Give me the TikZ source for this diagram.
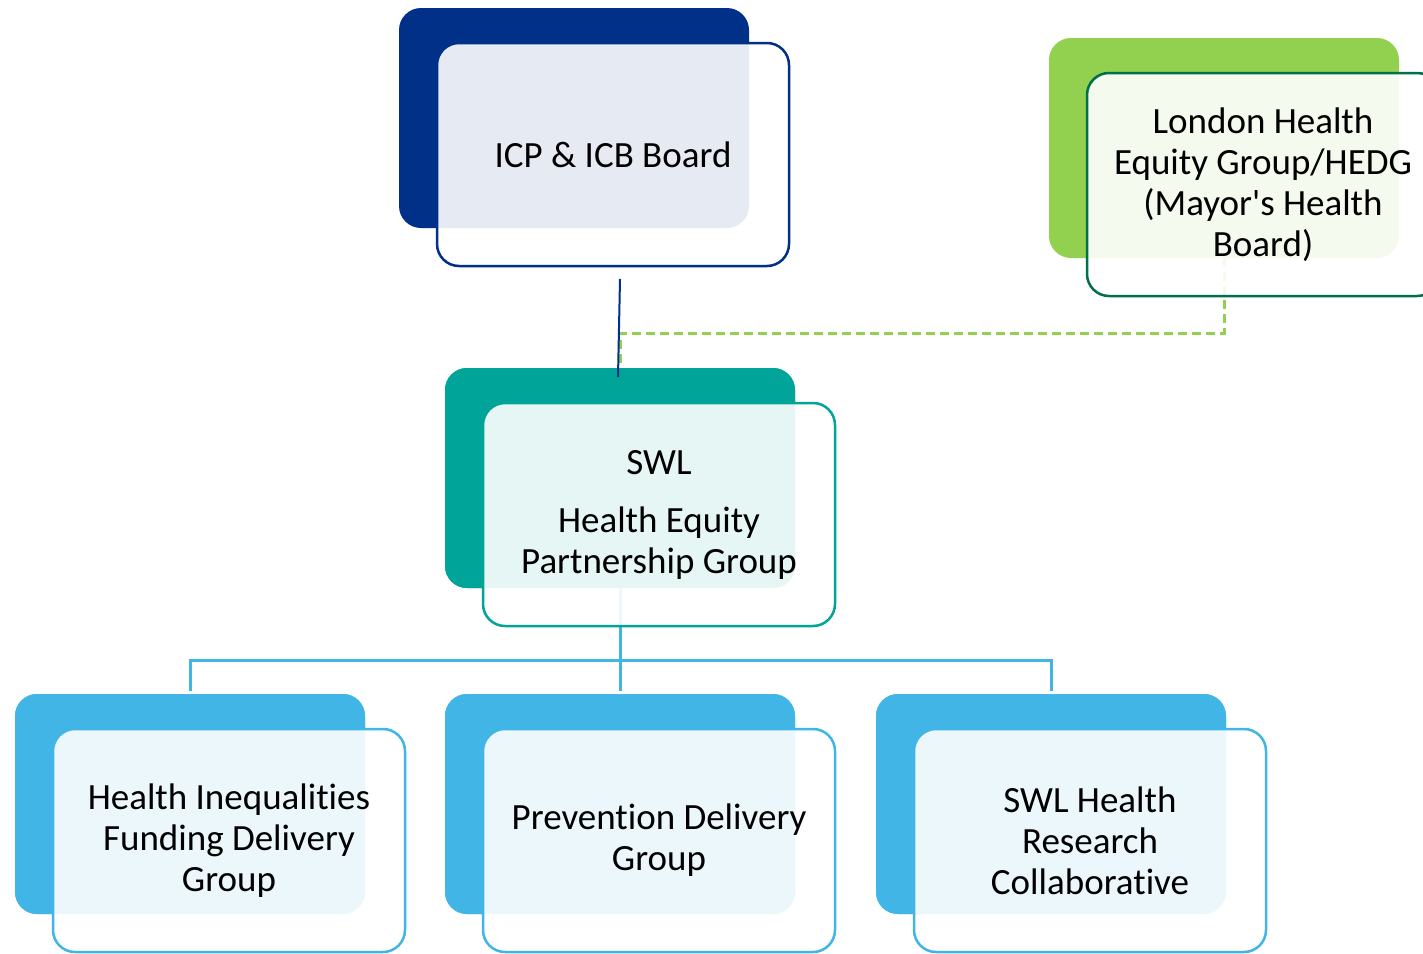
\documentclass[tikz,border=0pt]{standalone}
\usepackage{fontspec}
\setmainfont{Carlito}[Ligatures={NoCommon}]
\definecolor{navy}{HTML}{003087}
\definecolor{lgreen}{HTML}{92D050}
\definecolor{dgreen}{HTML}{00704A}
\definecolor{teal}{HTML}{00A499}
\definecolor{sky}{HTML}{41B6E6}
\begin{document}
\begin{tikzpicture}[x=1pt,y=-1pt,
  backbox/.style={rounded corners=22pt, minimum width=350pt, minimum height=220pt,
    inner sep=0pt, outer sep=0pt, draw=none},
  frontbox/.style={rounded corners=22pt, minimum width=352pt, minimum height=223pt,
    inner sep=0pt, outer sep=0pt, fill=white, fill opacity=0.9, text opacity=1,
    line width=2.5pt, align=center, text=black,
    font=\fontsize{37}{41}\selectfont},
  link/.style={line width=3pt, sky},
  dashlink/.style={line width=3pt, lgreen, dash pattern=on 9pt off 5pt},
]
\useasboundingbox (0,0) rectangle (1423,953);
\clip (0,0) rectangle (1423,953);

% back panels
\node[backbox, fill=navy]   (icpb) at (574,118) {};
\node[backbox, fill=lgreen] (lonb) at (1224,148) {};
\node[backbox, fill=teal]   (swlb) at (620,478) {};
\node[backbox, fill=sky]    (hifb) at (190,804) {};
\node[backbox, fill=sky]    (prvb) at (620,804) {};
\node[backbox, fill=sky]    (rscb) at (1051,804) {};

% connectors
\draw[dashlink] (lonb.south) -- ++(0,75) -| (swlb.north);
\draw[link] (swlb.south) -- ++(0,72) coordinate (hub);
\draw[link] (hub) -| ([yshift=3pt]hifb.north);
\draw[link] (hub) -| ([yshift=3pt]rscb.north);
\draw[link] (hub) -- ([yshift=3pt]prvb.north);

% re-lay panels over connector ends
\node[backbox, fill=teal] at (swlb) {};
\node[backbox, fill=sky]  at (hifb) {};
\node[backbox, fill=sky]  at (prvb) {};
\node[backbox, fill=sky]  at (rscb) {};

\draw[navy, line width=2pt] ([yshift=-51pt]icpb.south -| swlb.north)
  -- ([xshift=-2pt,yshift=-9pt]swlb.north);

% front panels with labels
\node[frontbox, draw=navy]  (icp) at (613,154.5) {ICP \& ICB Board};
\node[frontbox, draw=dgreen] (lon) at (1263,184.5)
  {London Health\\Equity Group/HEDG\\(Mayor\textquotesingle s Health\\Board)};
\node[frontbox, draw=teal]  (swl) at (659,514.5)
  {SWL\\[17pt]Health Equity\\Partnership Group};
\node[frontbox, draw=sky]   (hif) at (229,840.5)
  {Health Inequalities\\Funding Delivery\\Group};
\node[frontbox, draw=sky]   (prv) at (659,840.5)
  {Prevention Delivery\\Group};
\node[frontbox, draw=sky]   (rsc) at (1090,840.5)
  {SWL Health\\Research\\Collaborative};
\end{tikzpicture}
\end{document}
